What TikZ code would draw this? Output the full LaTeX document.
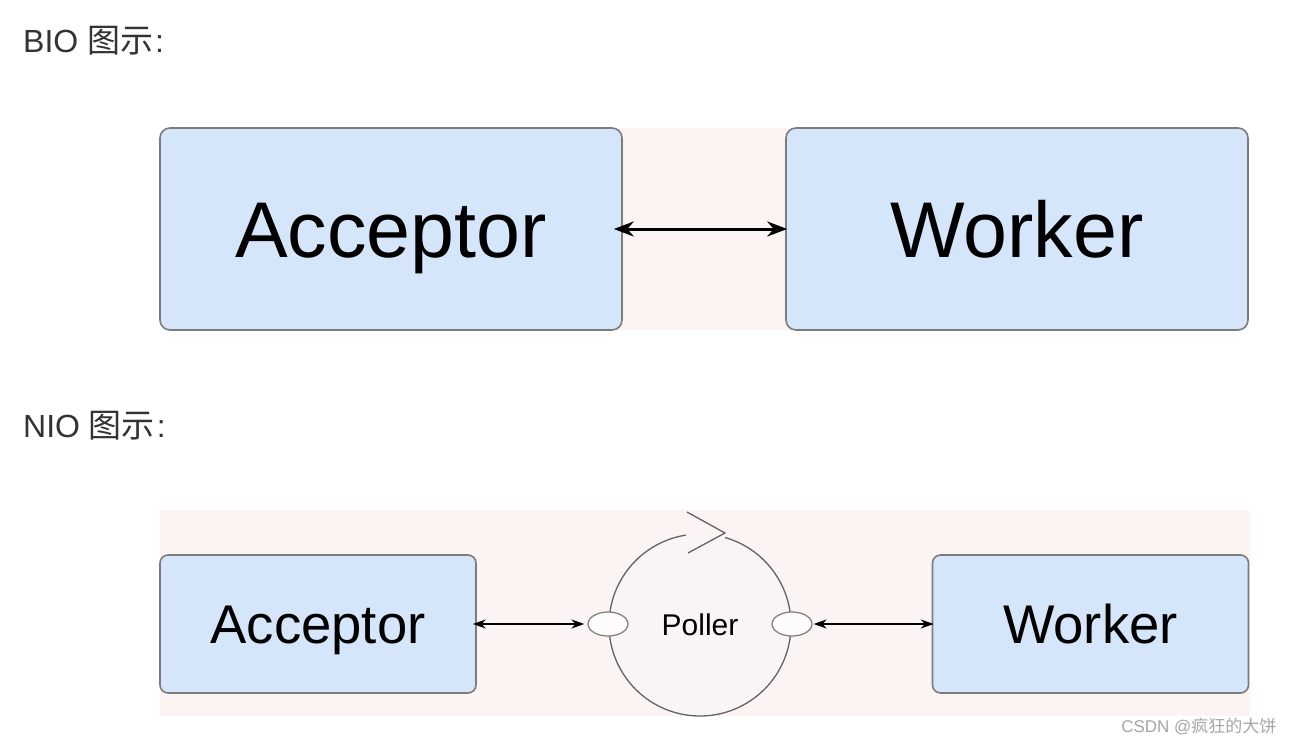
\documentclass[tikz,border=0pt]{standalone}
\usepackage{fontspec}
\setmainfont{Liberation Sans}
\newfontfamily\cjk{Noto Sans CJK SC}
\usetikzlibrary{arrows.meta,shapes.geometric,calc}
\definecolor{boxblue}{HTML}{D5E5FA}
\definecolor{boxline}{HTML}{7C7C7C}
\definecolor{titlegray}{HTML}{333333}
\definecolor{markpink}{HTML}{FCF4F2}
\definecolor{pollfill}{HTML}{F9F5F5}

\tikzset{
  bigbox/.style={draw=boxline, line width=1.6pt, fill=boxblue, rounded corners=10pt,
                 minimum width=462pt, minimum height=202pt, font=\fontsize{79}{80}\selectfont,
                 text height=57pt, text depth=0pt},
  smallbox/.style={draw=boxline, line width=1.6pt, fill=boxblue, rounded corners=8pt,
                 minimum width=316pt, minimum height=138pt, font=\fontsize{54.5}{56}\selectfont,
                 text height=38pt, text depth=0pt},
  pin/.style={draw=boxline, line width=1.2pt, fill=white!60!pollfill, ellipse, inner sep=0pt,
              minimum width=40pt, minimum height=24pt},
  title/.style={anchor=base west, inner sep=0pt, text=titlegray, font=\fontsize{32}{34}\selectfont},
  bigarrow/.style={{Stealth[length=20pt,width=15pt]}-{Stealth[length=20pt,width=15pt]}, line width=3pt},
  smallarrow/.style={{Stealth[length=13pt,width=9pt]}-{Stealth[length=13pt,width=9pt]}, line width=2pt}
}

\begin{document}
\begin{tikzpicture}[x=1pt, y=-1pt]
  \useasboundingbox (0,0) rectangle (1294,744);
  \fill[white] (0,0) rectangle (1294,744);
  % faint background tint
  \fill[markpink] (560,128) rectangle (850,330);
  \fill[markpink] (160,510) rectangle (1250,716);

  % BIO
  \node[title] (biotitle) at (23,52) {BIO {\cjk\fontsize{33}{34}\selectfont 图示}\kern2pt:};
  \node[bigbox] (bacc) at (391,229) {Acceptor};
  \node[bigbox] (bwrk) at (1017,229) {Worker};
  \draw[bigarrow, shorten <=-9pt, shorten >=-2pt] (bacc.east) -- (bwrk.west);

  % NIO
  \node[title] (niotitle) at (23,437) {NIO {\cjk\fontsize{33}{34}\selectfont 图示}\kern2pt:};
  \node[smallbox] (nacc) at (318,624) {Acceptor};
  \node[smallbox] (nwrk) at (1090.5,624) {Worker};

  \node[circle, fill=pollfill, minimum size=182pt, font=\fontsize{30}{32}\selectfont] (poller) at (700,625) {Poller};
  \coordinate (tip) at (725,533);
  \draw[boxline!80!black, line width=1.3pt] ($(poller.center)+(-74:91)$) arc[start angle=-74, end angle=261, radius=91];
  \draw[boxline!80!black, line width=1.3pt] (687,512) -- (tip) -- (688,553);

  \node[pin] (pinl) at (608,624) {};
  \node[pin] (pinr) at (792,624) {};

  \draw[smallarrow, shorten <=-4pt, shorten >=3pt] (nacc.east) -- (pinl.west);
  \draw[smallarrow, shorten <=1pt, shorten >=-2pt] (pinr.east) -- (nwrk.west);

  % watermark
  \node[anchor=base east, text=gray!70, font=\fontsize{17}{18}\selectfont] (mark) at (1280,732)
    {CSDN @{\cjk 疯狂的大饼}};
\end{tikzpicture}
\end{document}
